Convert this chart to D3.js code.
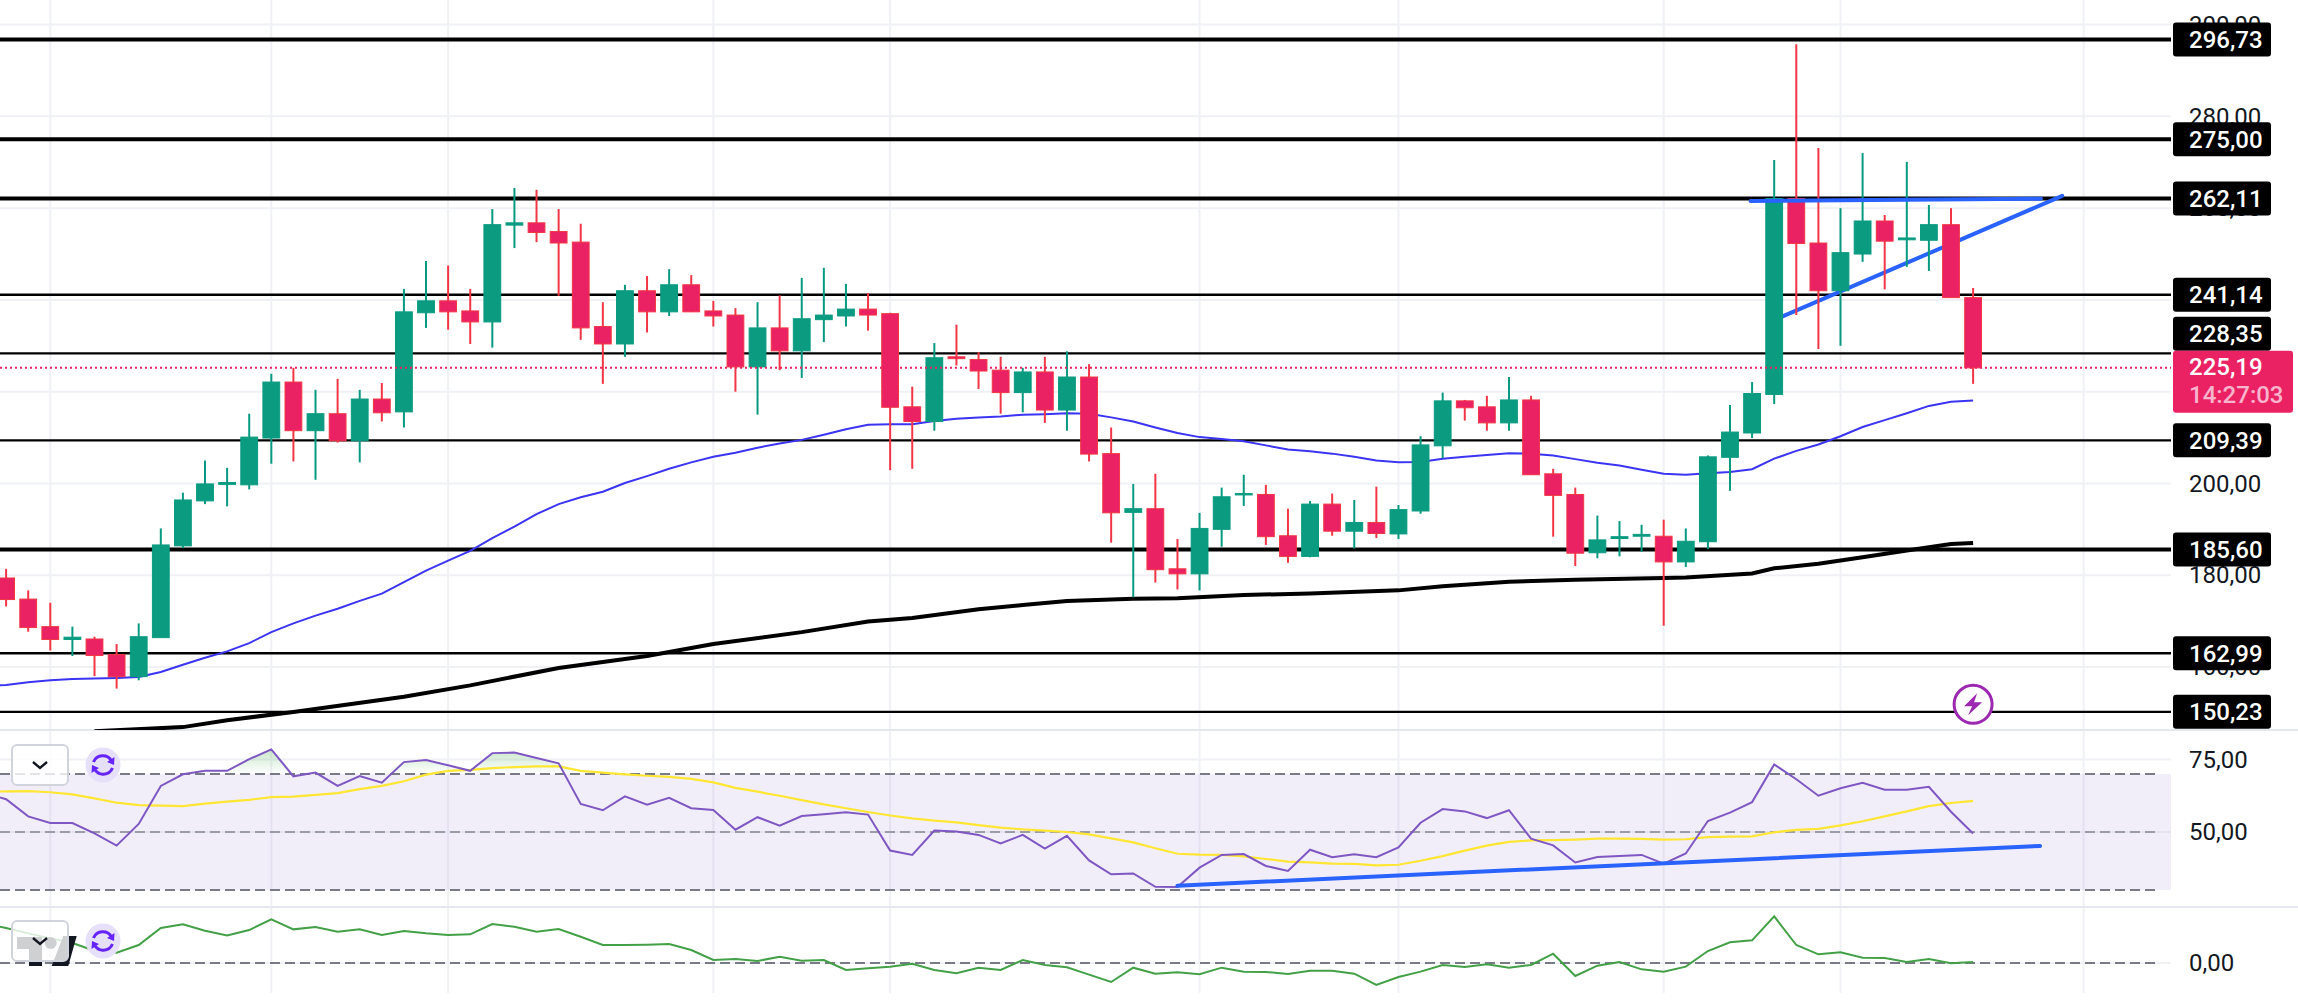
<!DOCTYPE html>
<html>
<head>
<title>Chart</title>
<meta charset="utf-8">
<style type="text/css">
html, body { margin: 0; padding: 0; background: #fff; }
svg { display: block; }
text { font-family: "Roboto", sans-serif; }
.tick line, .domain { display: none; }
</style>
</head>
<body>
<svg id="chart"></svg>
<script src="https://d3js.org/d3.v7.min.js"></script>
<script type="text/javascript">
// candles, one column per bar, bar 0 is the first one on screen
const barOpen = [179.4,174.8,168.8,166.0,166.1,162.7,157.9,166.4,186.4,196.2,
  199.8,199.7,209.9,222.1,211.5,215.2,209.3,218.4,215.6,237.2,
  239.8,237.6,235.2,256.3,256.8,254.9,252.6,234.2,230.4,242.0,
  237.4,243.3,237.6,236.7,225.4,233.9,228.9,235.7,236.5,238.0,
  237.0,216.7,213.5,227.6,227.0,224.7,219.8,224.3,216.0,223.2,
  206.5,193.7,194.5,181.4,180.3,190.0,197.5,197.6,188.6,184.1,
  195.5,189.6,191.5,189.0,194.0,208.2,218.0,216.7,213.2,218.2,
  202.1,197.6,184.9,188.0,188.5,188.5,182.9,187.3,205.7,211.0,
  219.4,262.1,252.4,242.0,250.0,257.2,253.1,253.0,256.4,240.5];
const barHigh = [181.4,176.7,174.0,168.8,166.6,165.0,169.5,190.2,198.0,205.0,
  203.4,215.2,223.9,225.2,220.4,222.8,220.4,221.9,242.4,248.5,
  247.5,242.4,259.8,264.4,264.0,259.8,256.6,239.5,243.3,245.2,
  246.7,245.4,239.8,238.2,239.5,241.0,244.8,247.0,243.5,241.5,
  237.2,221.1,230.6,234.6,228.6,227.6,225.2,227.6,228.8,226.0,
  212.2,199.9,202.1,187.9,193.6,199.1,201.9,199.7,194.5,196.2,
  197.8,196.4,199.3,195.3,210.3,219.8,218.2,219.1,223.2,219.1,
  203.2,199.1,193.0,191.8,191.0,192.1,190.2,206.1,217.1,222.1,
  270.5,295.7,273.1,260.0,272.0,258.5,270.1,260.7,260.0,242.6];
const barLow = [173.2,167.7,163.6,162.4,158.0,155.3,157.1,166.4,185.9,195.5,
  195.0,198.7,204.3,204.8,200.8,208.9,204.6,213.5,212.2,233.9,
  233.5,230.4,229.6,251.3,252.6,240.9,231.3,221.7,227.6,232.9,
  236.5,237.4,234.2,220.0,215.0,224.7,223.0,230.8,234.2,233.3,
  202.9,203.2,211.5,225.7,220.6,215.2,215.5,213.2,211.5,204.8,
  187.1,175.2,178.4,176.9,176.7,186.2,195.1,186.6,182.7,183.9,
  188.6,185.8,188.1,187.9,193.4,205.5,213.7,211.5,211.5,201.9,
  188.4,182.0,183.7,184.1,185.1,169.0,181.8,185.7,198.4,209.9,
  217.3,236.7,229.3,230.0,248.3,242.3,247.2,246.3,240.5,221.7];
const barClose = [174.7,168.6,166.0,166.5,162.5,157.9,166.6,186.6,196.4,199.9,
  200.2,210.1,222.1,211.5,215.2,209.3,218.4,215.4,237.4,239.8,
  237.4,235.2,256.4,256.8,254.7,252.4,233.9,230.4,242.0,237.4,
  243.3,237.4,236.5,225.4,233.9,228.9,235.9,236.7,238.0,236.7,
  216.6,213.5,227.4,227.2,224.5,219.8,224.3,216.0,223.2,206.4,
  193.6,194.5,181.2,180.3,190.2,197.1,197.8,188.4,184.1,195.5,
  189.6,191.5,189.1,194.3,208.4,218.0,216.5,213.2,218.2,201.9,
  197.4,184.8,187.7,188.4,188.9,182.9,187.4,205.8,211.2,219.6,
  262.1,252.3,242.0,250.3,257.2,252.8,253.5,256.4,240.5,225.19];

// moving averages, these start one bar before the first candle
const ma50 = [155.9,156.1,156.7,157.1,157.4,157.5,157.6,157.8,158.9,160.5,162.0,
  163.4,165.2,167.6,169.5,171.2,172.7,174.4,176.0,178.5,181.0,
  183.2,185.3,188.1,190.6,193.3,195.5,197.0,198.2,200.1,201.6,
  203.2,204.6,205.8,206.7,207.8,208.7,209.5,210.6,211.8,212.8,
  212.9,212.9,213.6,214.1,214.4,214.6,215.0,215.1,215.3,215.2,
  214.4,213.5,212.2,211.0,210.1,209.7,209.2,208.3,207.4,207.0,
  206.5,205.8,205.0,204.6,204.7,205.4,205.8,206.2,206.6,206.5,
  206.1,205.3,204.5,203.9,203.0,202.1,201.9,202.2,202.5,203.1,
  205.4,207.1,208.5,210.3,212.3,213.8,215.3,216.9,217.8,218.1];
const ma200Bars = [4,8,10,13,18,21,25,29,32,36,39,41,44,46,48,51,53,56,59,63,65,68,71,75,76,79,80,82,84,86,88,89];
const ma200 = [146.0,146.9,148.4,150.2,153.5,156.0,159.8,162.4,165.0,167.6,169.9,170.7,172.6,173.5,174.4,174.9,
  175.0,175.7,176.0,176.7,177.6,178.6,179.0,179.4,179.5,180.4,181.5,182.5,183.9,185.4,186.8,187.0];

const rsi = [63.5,61.3,55.4,53.1,53.1,49.5,45.3,52.8,65.9,69.9,71.1,
  71.1,75.1,78.5,69.2,70.5,65.9,69.3,67.0,74.1,74.8,
  73.0,71.1,77.2,77.4,75.5,73.7,59.7,57.5,62.3,59.4,
  61.8,58.2,57.6,50.8,55.1,52.2,55.5,56.1,56.8,56.0,
  43.6,42.1,50.5,50.2,49.0,46.1,49.0,44.3,48.7,40.2,
  35.4,35.7,31.1,31.0,37.7,42.1,42.4,38.3,36.6,43.9,
  41.3,42.3,41.3,44.7,53.2,57.9,57.1,54.8,57.5,47.7,
  45.4,39.5,41.4,41.7,42.1,39.1,42.6,53.8,56.7,60.3,
  73.3,68.2,62.5,65.1,67.0,64.6,64.6,65.6,57.0,49.5];
const rsiMa = [63.9,64.0,64.1,63.7,63.0,61.6,60.1,59.3,59.1,58.9,59.8,
  60.5,61.1,62.0,62.2,62.8,63.4,64.8,65.9,67.5,69.8,
  71.1,71.4,72.0,72.4,72.6,72.6,71.1,70.5,69.9,69.4,
  69.0,68.3,67.1,65.2,63.9,62.5,61.0,59.5,58.2,56.9,
  55.7,54.7,53.9,53.3,52.4,51.5,50.9,50.5,50.0,49.2,
  47.8,46.4,44.4,42.5,42.2,42.1,41.6,40.7,39.8,39.5,
  39.1,39.0,38.5,38.7,40.1,41.7,43.6,45.3,46.6,47.1,
  47.2,47.4,47.7,47.7,47.6,47.4,47.5,48.2,48.4,48.5,
  49.9,50.7,51.1,52.3,53.7,55.4,57.1,58.9,60.0,60.7];
const oscillator = [11.9,10.5,8.9,7.4,6.0,3.7,3.1,5.4,10.5,11.6,9.7,
  8.3,9.9,13.1,10.1,10.8,9.4,10.1,8.4,9.6,8.9,
  8.4,8.6,11.7,10.9,9.4,10.2,7.9,5.4,5.4,5.5,
  5.7,3.9,0.9,1.2,0.6,1.9,0.7,0.9,-2.1,-1.6,
  -1.1,-0.2,-2.1,-3.1,-1.4,-2.1,0.9,-0.6,-1.3,-3.5,
  -5.7,-1.4,-3.2,-2.8,-3.4,-1.4,-2.6,-2.7,-3.3,-2.3,
  -2.3,-3.2,-6.6,-4.2,-2.6,-0.6,-1.2,-0.4,-1.4,-0.6,
  2.8,-3.9,-0.8,0.3,-1.9,-2.6,-1.1,3.6,6.2,6.8,
  14.0,5.4,2.6,3.2,1.6,1.5,0.3,1.2,-0.1,0.3];

const levels = [296.73, 275.00, 262.11, 241.14, 228.35, 209.39, 185.60, 162.99, 150.23];
const heavyLevels = [296.73, 275.00, 262.11, 185.60];
const lastPrice = 225.19;
const countdown = "14:27:03";
const priceTicks = [300, 280, 260, 240, 220, 200, 180, 160];
const rsiTicks = [75, 50];
const rsiBands = [70, 50, 30];
const oscTicks = [0];
const gridBars = [2, 12, 20, 32, 40, 54, 63, 75, 83, 94];

// trend lines as [bar, value]
const trendTop = [[78.93, 261.55], [92.07, 262.06]];
const trendRising = [[80.38, 236.4], [93.03, 262.67]];
const trendRsi = [[53.0, 31.5], [92.03, 45.2]];

const WIDTH = 2298;
const HEIGHT = 1004;
const PLOT_RIGHT = 2171;
const MAIN_BOTTOM = 730;
const RSI_BOTTOM = 907;
const GRID_BOTTOM = 993;
const BOX_LEFT = 2173;
const BOX_W = 98;
const BOX_H = 34;
const LABEL_X = 2189;
const UP = "#089981";
const UP_BODY = "#0a9b80";
const DOWN = "#f23645";
const DOWN_BODY = "#ea2264";
const GRID = "#f0f1f5";

const comma = v => v.toFixed(2).replace(".", ",");

const svg = d3.select("#chart").attr("width", WIDTH).attr("height", HEIGHT)
    .attr("viewBox", [0, 0, WIDTH, HEIGHT]);

const defs = svg.append("defs");
defs.append("clipPath").attr("id", "main-clip").append("rect")
    .attr("width", WIDTH).attr("height", MAIN_BOTTOM);
defs.append("clipPath").attr("id", "over-clip").append("rect")
    .attr("width", PLOT_RIGHT).attr("height", 774);
const grad = defs.append("linearGradient").attr("id", "over-fill")
    .attr("x1", 0).attr("x2", 0).attr("y1", 0).attr("y2", 1)
    .attr("gradientUnits", "objectBoundingBox");
grad.append("stop").attr("offset", 0).attr("stop-color", "#4caf50").attr("stop-opacity", 0.3);
grad.append("stop").attr("offset", 1).attr("stop-color", "#4caf50").attr("stop-opacity", 0);

// scales
const x = d3.scaleLinear().domain([0, 89]).range([6.1, 1973.1]);
const y = d3.scaleLinear().domain([300, 160]).range([24.6, 667]);
const yRsi = d3.scaleLinear().domain([70, 30]).range([774, 890]);
const yOsc = d3.scaleLinear().domain([0, 10]).range([963, 929.7]);

// vertical grid
svg.append("g").selectAll("line").data(gridBars).join("line")
    .attr("x1", d => x(d)).attr("x2", d => x(d))
    .attr("y1", 0).attr("y2", GRID_BOTTOM)
    .attr("stroke", GRID).attr("stroke-width", 2);

// horizontal grid
function hgrid(ticks, scale) {
    svg.append("g").selectAll("line").data(ticks).join("line")
        .attr("x1", 0).attr("x2", PLOT_RIGHT)
        .attr("y1", d => scale(d)).attr("y2", d => scale(d))
        .attr("stroke", GRID).attr("stroke-width", 2);
}
hgrid(priceTicks, y);
hgrid(rsiTicks, yRsi);
hgrid(oscTicks, yOsc);

// pane separators
svg.append("g").selectAll("line").data([MAIN_BOTTOM, RSI_BOTTOM]).join("line")
    .attr("x1", 0).attr("x2", WIDTH).attr("y1", d => d).attr("y2", d => d)
    .attr("stroke", "#e5e7ee").attr("stroke-width", 2);

// axes
function axis(ticks, scale) {
    const g = svg.append("g")
        .attr("transform", `translate(${LABEL_X},0)`)
        .call(d3.axisRight(scale).tickValues(ticks).tickFormat(comma).tickSize(0).tickPadding(0));
    g.selectAll("text").attr("font-size", 24).attr("fill", "#131722")
        .style("font-family", '"Roboto", sans-serif');
    return g;
}
axis(priceTicks, y);
axis(rsiTicks, yRsi);
axis(oscTicks, yOsc);

// main pane
const main = svg.append("g").attr("clip-path", "url(#main-clip)");

main.append("g").selectAll("line").data(levels).join("line")
    .attr("x1", 0).attr("x2", PLOT_RIGHT)
    .attr("y1", d => y(d)).attr("y2", d => y(d))
    .attr("stroke", "#000")
    .attr("stroke-width", d => heavyLevels.includes(d) ? 4 : 2.4);

const lineMain = d3.line().x(d => x(d[0])).y(d => y(d[1]));

main.append("path").attr("d", lineMain(trendRising))
    .attr("fill", "none").attr("stroke", "#2962ff").attr("stroke-width", 4).attr("stroke-linecap", "round");

main.append("path").attr("d", lineMain(ma50.map((v, i) => [i - 1, v])))
    .attr("fill", "none").attr("stroke", "#3b34f2").attr("stroke-width", 2);
main.append("path").attr("d", lineMain(ma200.map((v, i) => [ma200Bars[i], v])))
    .attr("fill", "none").attr("stroke", "#000").attr("stroke-width", 4);

// candles
const bars = barOpen.map((o, i) => ({i, o, h: barHigh[i], l: barLow[i], c: barClose[i]}));
const candle = main.append("g").selectAll("g").data(bars).join("g");
candle.append("line")
    .attr("x1", d => x(d.i)).attr("x2", d => x(d.i))
    .attr("y1", d => y(d.h)).attr("y2", d => y(d.l))
    .attr("stroke", d => d.c >= d.o ? UP : DOWN).attr("stroke-width", 2);
candle.append("rect")
    .attr("x", d => x(d.i) - 8.4).attr("width", 16.8)
    .attr("y", d => y(Math.max(d.o, d.c)))
    .attr("height", d => Math.max(1, Math.abs(y(d.o) - y(d.c))))
    .attr("fill", d => d.c >= d.o ? UP_BODY : DOWN_BODY)
    .attr("stroke", d => d.c >= d.o ? UP_BODY : DOWN).attr("stroke-width", 1);

main.append("path").attr("d", lineMain(trendTop))
    .attr("fill", "none").attr("stroke", "#2962ff").attr("stroke-width", 4).attr("stroke-linecap", "round");

// last price line
main.append("line")
    .attr("x1", 0).attr("x2", PLOT_RIGHT).attr("y1", y(lastPrice)).attr("y2", y(lastPrice))
    .attr("stroke", DOWN_BODY).attr("stroke-width", 2).attr("stroke-dasharray", "2 3");

// lightning marker
const bolt = svg.append("g").attr("transform", `translate(${x(89)},704.3)`);
bolt.append("circle").attr("r", 19).attr("fill", "#fff").attr("stroke", "#9c27b0").attr("stroke-width", 3);
bolt.append("path").attr("d", "M4,-11 L-9,2 L-1,2 L-5,11 L9,-2 L1,-2 Z").attr("fill", "#9c27b0");

// price labels
const pinkTop = y(lastPrice) - 17;
const boxCenter = d => {
    const c = y(d);
    return c < pinkTop && c + BOX_H / 2 > pinkTop ? pinkTop - BOX_H / 2 : (c >= pinkTop && c < pinkTop + 62 ? pinkTop - BOX_H / 2 : c);
};
const label = svg.append("g").selectAll("g").data(levels).join("g")
    .attr("transform", d => `translate(0,${boxCenter(d)})`);
label.append("rect")
    .attr("x", BOX_LEFT).attr("y", -BOX_H / 2).attr("width", BOX_W).attr("height", BOX_H).attr("rx", 3)
    .attr("fill", "#000");
label.append("text")
    .attr("x", LABEL_X).attr("dy", "0.35em")
    .attr("font-size", 24).attr("font-weight", 500).attr("fill", "#fff")
    .text(comma);

const last = svg.append("g").attr("transform", `translate(0,${pinkTop})`);
last.append("rect").attr("x", BOX_LEFT).attr("width", 120).attr("height", 62).attr("rx", 3).attr("fill", DOWN_BODY);
last.append("text").attr("x", LABEL_X).attr("y", 16).attr("dy", "0.35em")
    .attr("font-size", 24).attr("font-weight", 500).attr("fill", "#fff").text(comma(lastPrice));
last.append("text").attr("x", LABEL_X).attr("y", 44).attr("dy", "0.35em")
    .attr("font-size", 24).attr("font-weight", 500).attr("fill", "#f9b4cd").text(countdown);

// rsi pane
svg.append("rect")
    .attr("x", 0).attr("width", PLOT_RIGHT)
    .attr("y", yRsi(70)).attr("height", yRsi(30) - yRsi(70))
    .attr("fill", "#7e57c2").attr("fill-opacity", 0.1);
svg.append("g").selectAll("line").data(rsiBands).join("line")
    .attr("x1", 0).attr("x2", 2160)
    .attr("y1", d => yRsi(d)).attr("y2", d => yRsi(d))
    .attr("stroke", d => d === 50 ? "#9a9ca6" : "#787b86")
    .attr("stroke-width", 2).attr("stroke-dasharray", "10 5");

const rsiPoints = rsi.map((v, i) => [i - 1, v]);
svg.append("path")
    .attr("clip-path", "url(#over-clip)")
    .attr("d", d3.area().x(d => x(d[0])).y0(yRsi(70)).y1(d => Math.min(yRsi(d[1]), yRsi(70)))(rsiPoints))
    .attr("fill", "url(#over-fill)");

const lineRsi = d3.line().x(d => x(d[0])).y(d => yRsi(d[1]));
svg.append("path").attr("d", lineRsi(rsiMa.map((v, i) => [i - 1, v])))
    .attr("fill", "none").attr("stroke", "#fee633").attr("stroke-width", 2.2);
svg.append("path").attr("d", lineRsi(rsiPoints))
    .attr("fill", "none").attr("stroke", "#7e57c2").attr("stroke-width", 2);
svg.append("path").attr("d", lineRsi(trendRsi))
    .attr("fill", "none").attr("stroke", "#2962ff").attr("stroke-width", 4).attr("stroke-linecap", "round");

// bottom pane
svg.append("line")
    .attr("x1", 0).attr("x2", 2160).attr("y1", yOsc(0)).attr("y2", yOsc(0))
    .attr("stroke", "#787b86").attr("stroke-width", 2).attr("stroke-dasharray", "10 5");
svg.append("path")
    .attr("d", d3.line().x((d, i) => x(i - 1)).y(d => yOsc(d))(oscillator))
    .attr("fill", "none").attr("stroke", "#43a047").attr("stroke-width", 2);

// watermark logo, sits under the pane toolbar
const logo = svg.append("g").attr("fill", "#131722");
logo.append("path").attr("d", "M17,937 H42 V966 H29 V949 H17 Z");
logo.append("circle").attr("cx", 50.7).attr("cy", 943).attr("r", 6);
logo.append("path").attr("d", "M63.3,936 H76.7 L68.3,966 H51.7 Z");

// pane toolbars
function toolbar(top, h, cy) {
    const g = svg.append("g");
    g.append("rect").attr("x", 12).attr("y", top).attr("width", 56).attr("height", h).attr("rx", 5)
        .attr("fill", "#fff").attr("fill-opacity", 0.8).attr("stroke", "#d1d4dc").attr("stroke-width", 2);
    g.append("path").attr("d", `M33,${cy - 3} L40,${cy + 3} L47,${cy - 3}`)
        .attr("fill", "none").attr("stroke", "#131722").attr("stroke-width", 2.4);
    const icon = g.append("g").attr("transform", `translate(103,${cy})`);
    icon.append("circle").attr("r", 17.5).attr("fill", "#e6e0fb");
    icon.append("path").attr("d", "M-9.5,-3 A10,10 0 0 1 8.5,-4 M9.5,3 A10,10 0 0 1 -8.5,4")
        .attr("fill", "none").attr("stroke", "#6624ff").attr("stroke-width", 3);
    icon.append("path").attr("d", "M11.5,-8 L11,0 L4,-3 Z M-11.5,8 L-11,0 L-4,3 Z").attr("fill", "#6624ff");
}
toolbar(745, 40, 765);
toolbar(921, 40, 941);
</script>
</body>
</html>
